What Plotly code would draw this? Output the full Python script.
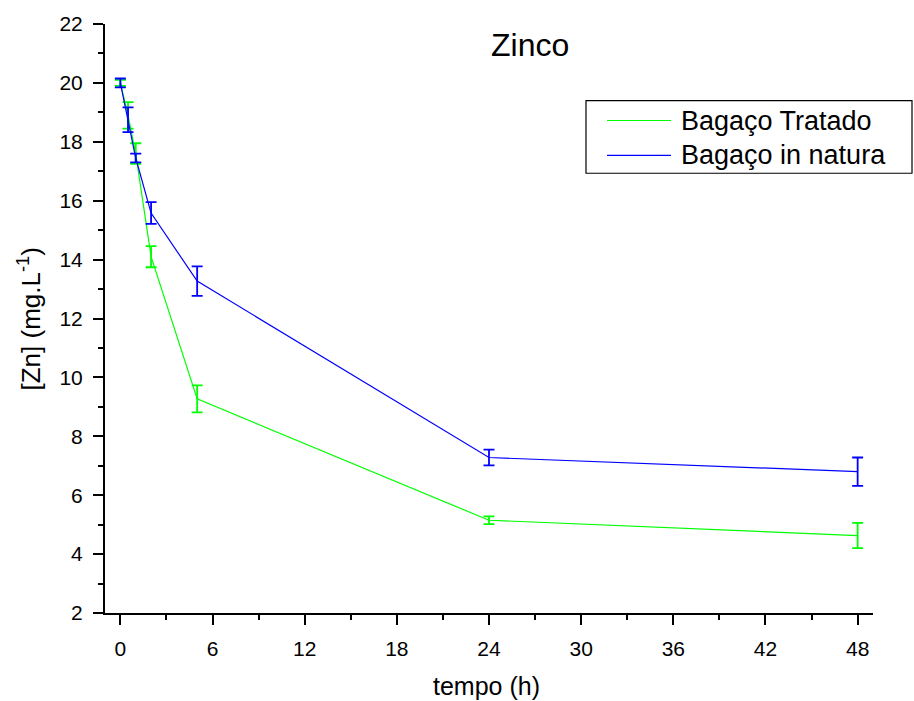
import plotly.graph_objects as go

# Sampling times (h)
tempo = [0, 0.5, 1, 2, 5, 24, 48]

# Zinc concentration (mg/L) and standard deviation for each adsorbent
zn_tratado = [20.0, 18.9, 17.6, 14.1, 9.27, 5.15, 4.63]
sd_tratado = [0.10, 0.45, 0.35, 0.36, 0.46, 0.13, 0.43]

zn_natura = [20.0, 18.75, 17.45, 15.58, 13.27, 7.28, 6.8]
sd_natura = [0.15, 0.42, 0.15, 0.37, 0.50, 0.27, 0.48]

x_ticks = [0, 6, 12, 18, 24, 30, 36, 42, 48]
y_ticks = [2, 4, 6, 8, 10, 12, 14, 16, 18, 20, 22]

series_names = ["Bagaço Tratado", "Bagaço in natura"]
GREEN = "#00ff00"
BLUE = "#0000ff"
FONT = "Liberation Sans, Arial, sans-serif"

fig = go.Figure()

for y, sd, color, name in [
    (zn_tratado, sd_tratado, GREEN, series_names[0]),
    (zn_natura, sd_natura, BLUE, series_names[1]),
]:
    fig.add_trace(
        go.Scatter(
            x=tempo,
            y=y,
            mode="lines",
            name=name,
            line=dict(color=color, width=1.2),
            error_y=dict(type="data", array=sd, visible=True,
                         color=color, thickness=1.8, width=5.5),
            showlegend=False,
        )
    )

axis_common = dict(
    showline=True, linecolor="black", linewidth=2,
    ticks="outside", ticklen=10, tickwidth=2, tickcolor="black",
    showgrid=False, zeroline=False,
    tickfont=dict(family=FONT, size=21, color="black"),
)

fig.update_xaxes(
    range=[-1, 49], tickmode="array", tickvals=x_ticks,
    ticktext=[str(t) for t in x_ticks], ticklabelstandoff=6,
    minor=dict(dtick=3, tick0=0, ticks="outside", ticklen=5,
               tickwidth=2, tickcolor="black", showgrid=False),
    **axis_common,
)
fig.update_yaxes(
    range=[2, 22], tickmode="array", tickvals=y_ticks,
    ticktext=[str(t) for t in y_ticks], ticklabelstandoff=6,
    minor=dict(dtick=1, tick0=0, ticks="outside", ticklen=5,
               tickwidth=2, tickcolor="black", showgrid=False),
    **axis_common,
)

L, R, T, B = 105, 41, 21, 88
W, H = 914, 701
pw = W - L - R
ph = H - T - B

def px_x(px):
    return (px - L) / pw

def px_y(py):
    return 1 - (py - T) / ph

shapes = [
    # short extension of the bottom axis past the left axis
    dict(type="line", xref="paper", yref="paper",
         x0=px_x(95), x1=0, y0=0, y1=0,
         line=dict(color="black", width=2)),
    # legend frame
    dict(type="rect", xref="paper", yref="paper",
         x0=px_x(586), x1=px_x(912), y0=px_y(171), y1=px_y(98),
         line=dict(color="black", width=1.2), fillcolor="white", layer="above"),
]
annotations = [
    dict(text="Zinco", xref="paper", yref="paper",
         x=px_x(530), y=px_y(42), showarrow=False,
         xanchor="center", yanchor="middle",
         font=dict(family=FONT, size=32, color="black")),
    dict(text="tempo (h)", xref="paper", yref="paper",
         x=px_x(486), y=px_y(686), showarrow=False,
         xanchor="center", yanchor="middle",
         font=dict(family=FONT, size=25, color="black")),
    dict(text="[Zn] (mg.L<sup>-1</sup>)", xref="paper", yref="paper",
         x=px_x(30), y=px_y(318), showarrow=False, textangle=-90,
         xanchor="center", yanchor="middle",
         font=dict(family=FONT, size=26, color="black")),
]

for row_y, color, name in [(118, GREEN, series_names[0]), (153, BLUE, series_names[1])]:
    shapes.append(dict(type="line", xref="paper", yref="paper",
                       x0=px_x(607), x1=px_x(671), y0=px_y(row_y), y1=px_y(row_y),
                       line=dict(color=color, width=1.2), layer="above"))
    annotations.append(dict(text=name, xref="paper", yref="paper",
                            x=px_x(679), y=px_y(row_y), showarrow=False,
                            xanchor="left", yanchor="middle",
                            font=dict(family=FONT, size=27, color="black")))

fig.update_layout(
    width=W, height=H,
    margin=dict(l=L, r=R, t=T, b=B),
    paper_bgcolor="white", plot_bgcolor="white",
    shapes=shapes, annotations=annotations,
    showlegend=False,
)

fig.write_html("out.html")
